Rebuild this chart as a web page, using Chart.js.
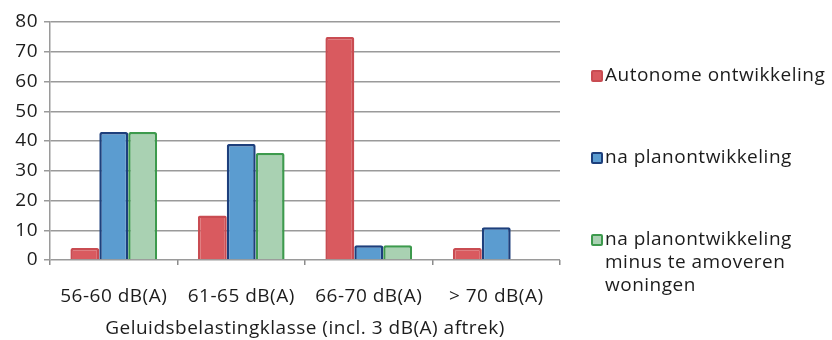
<!DOCTYPE html>
<html>
<head>
<meta charset="utf-8">
<script src="https://cdn.jsdelivr.net/npm/chart.js@4/dist/chart.umd.min.js"></script>
<style>
  html, body { margin: 0; padding: 0; background: #fff; }
  #wrap { position: relative; width: 832px; height: 340px; }
  #c { position: absolute; left: 0; top: 0; }
  #legend { position: absolute; left: 591px; top: 0; font-family: "Open Sans", Lato, sans-serif; font-size: 19px; letter-spacing: 0.5px; color: #1c1c1c; }
  .item { position: absolute; left: 0; display: flex; align-items: flex-start; white-space: nowrap; line-height: 23px; }
  .box { width: 8px; height: 8px; border-width: 2px; border-style: solid; border-radius: 2px; margin-top: 7px; margin-right: 2px; flex: none; }
</style>
</head>
<body>
<div id="wrap">
  <canvas id="c" width="832" height="340"></canvas>
  <div id="legend"></div>
</div>
<script>
// Geluidsbelastingklassen (x-as)
const categories = ['56-60 dB(A)', '61-65 dB(A)', '66-70 dB(A)', '> 70 dB(A)'];

// Aantal woningen per klasse
const autonoom = [4, 15, 75, 4];
const naPlan = [43, 39, 5, 11];
const naPlanMinusAmoveren = [43, 36, 5, 0];

const seriesNames = [
  ['Autonome ontwikkeling'],
  ['na planontwikkeling'],
  ['na planontwikkeling', 'minus te amoveren', 'woningen']
];

const yTicks = [0, 10, 20, 30, 40, 50, 60, 70, 80];
const xTitle = 'Geluidsbelastingklasse (incl. 3 dB(A) aftrek)';

const fills = ['#d95a5f', '#5b9cd0', '#a9d1b2'];
const borders = ['#c94c52', '#1d3f7c', '#3d9a4d'];

const FONT = '"Open Sans", Lato, sans-serif';
const TEXT = '#1c1c1c';

const values = [autonoom, naPlan, naPlanMinusAmoveren];
const datasets = values.map((v, i) => ({
  label: seriesNames[i].join(' '),
  data: v,
  backgroundColor: fills[i],
  borderColor: borders[i],
  borderWidth: 2.5,
  borderRadius: 2,
  borderSkipped: 'bottom',
  categoryPercentage: 0.68,
  barPercentage: 1.0
}));

// iets ruimere letterafstand voor alle canvastekst
const spacing = {
  id: 'spacing',
  beforeDraw: chart => { chart.ctx.letterSpacing = '0.5px'; }
};

new Chart(document.getElementById('c'), {
  type: 'bar',
  data: { labels: categories, datasets },
  plugins: [spacing],
  options: {
    responsive: false,
    animation: false,
    layout: { padding: { top: 22, right: 272, left: 0, bottom: 0 } },
    plugins: { legend: { display: false }, tooltip: { enabled: false } },
    scales: {
      x: {
        grid: { display: true, drawOnChartArea: false, offset: true, color: '#8c8c8c', lineWidth: 1.5, tickLength: 5 },
        border: { display: false },
        ticks: { font: { family: FONT, size: 19 }, color: TEXT, padding: 20, maxRotation: 0 },
        title: { display: true, text: xTitle, font: { family: FONT, size: 19 }, color: TEXT, padding: { top: 2, bottom: 0 } },
        afterFit: s => { s.height = 80; }
      },
      y: {
        min: 0, max: 80,
        afterBuildTicks: s => { s.ticks = yTicks.map(v => ({ value: v })); },
        grid: { color: '#9a9a9a', lineWidth: 1.5, tickLength: 6 },
        border: { display: true, color: '#9a9a9a', width: 1.5 },
        ticks: { font: { family: FONT, size: 19 }, color: TEXT, padding: 6 },
        afterFit: s => { s.width = 50; }
      }
    }
  }
});

// Legenda rechts naast de grafiek
const legend = document.getElementById('legend');
const legendTops = [63, 145, 227];
seriesNames.forEach((lines, i) => {
  const item = document.createElement('div');
  item.className = 'item';
  item.style.top = legendTops[i] + 'px';
  const box = document.createElement('div');
  box.className = 'box';
  box.style.background = fills[i];
  box.style.borderColor = borders[i];
  const txt = document.createElement('div');
  txt.innerHTML = lines.join('<br>');
  item.appendChild(box);
  item.appendChild(txt);
  legend.appendChild(item);
});
</script>
</body>
</html>
